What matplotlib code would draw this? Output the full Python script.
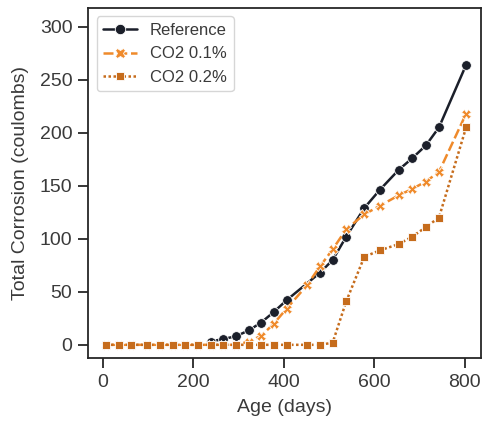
import matplotlib
matplotlib.use("Agg")
import matplotlib.pyplot as plt
import seaborn as sns
import pandas as pd

# days of each measurement, per series
ref_days = [238, 266, 294, 322, 350, 378, 406, 480, 508, 538, 578, 612, 654, 684, 714, 743, 803]
ref_vals = [3, 5.5, 8, 13.5, 21, 31, 42, 68, 80, 102, 129, 146, 165, 176, 188, 205, 264]

co2_01_days = [7, 35, 63, 98, 126, 154, 182, 210, 238, 266, 294, 322, 350, 378, 406,
               451, 480, 508, 538, 578, 612, 654, 684, 714, 743, 803]
co2_01_vals = [0, 0, 0, 0, 0, 0, 0, 0, 0, 0, 0, 3, 8.5, 20, 34,
               56, 74, 90, 109, 123, 131, 141, 147, 154, 163, 218]

co2_02_days = [7, 35, 63, 98, 126, 154, 182, 210, 238, 266, 294, 322, 350, 378, 406,
               451, 480, 508, 538, 578, 612, 654, 684, 714, 743, 803]
co2_02_vals = [0, 0, 0, 0, 0, 0, 0, 0, 0, 0, 0, 0, 0, 0, 0,
               0, 0, 2, 41, 83, 89, 95, 102, 111, 120, 205]

series = ["Reference", "CO2 0.1%", "CO2 0.2%"]
colors = {"Reference": "#1b1f2a", "CO2 0.1%": "#ef8a2b", "CO2 0.2%": "#c66c1c"}

frames = []
for name, d, v in zip(series, [ref_days, co2_01_days, co2_02_days],
                      [ref_vals, co2_01_vals, co2_02_vals]):
    frames.append(pd.DataFrame({"Age (days)": d, "Total Corrosion (coulombs)": v, "Mix": name}))
df = pd.concat(frames, ignore_index=True)

sns.set_theme(style="ticks", context="notebook")
plt.rcParams["font.family"] = ["Liberation Sans", "DejaVu Sans"]
text_col = "#3a3a3a"

fig = plt.figure(figsize=(4.83, 4.22), dpi=100)
ax = fig.add_axes([0.183, 0.152, 0.812, 0.829])

sns.lineplot(data=df, x="Age (days)", y="Total Corrosion (coulombs)",
             hue="Mix", style="Mix", hue_order=series, style_order=series,
             palette=colors, markers=["o", "X", "s"],
             dashes=["", (4, 1.5), (1, 1)], linewidth=1.8, markersize=7,
             markeredgewidth=0.6, ax=ax)

ax.set_xlim(-32, 835)
ax.set_ylim(-12.3, 317.6)
ax.set_xticks([0, 200, 400, 600, 800])
ax.set_yticks([0, 50, 100, 150, 200, 250, 300])
ax.tick_params(labelsize=14, length=7, width=1.3, pad=4.5, labelcolor=text_col)
ax.set_xlabel("Age (days)", fontsize=14, color=text_col, labelpad=6)
ax.set_ylabel("Total Corrosion (coulombs)", fontsize=14, color=text_col, labelpad=8)
for s in ax.spines.values():
    s.set_linewidth(1.3)
leg = ax.legend(title=None, loc="upper left", fontsize=12)
for t in leg.get_texts():
    t.set_color(text_col)

# squares look smaller than the circles in the original
for ln in ax.lines:
    if ln.get_marker() == "s":
        ln.set_markersize(5.8)
for h in leg.legend_handles:
    if hasattr(h, "set_markersize"):
        h.set_markersize(6 if h.get_marker() == "s" else 7.5)

fig.savefig("out.png", dpi=100)
